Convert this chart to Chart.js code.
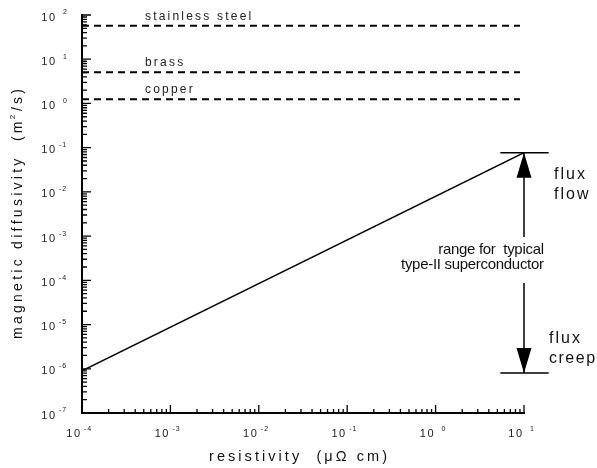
<!DOCTYPE html>
<html>
<head>
<meta charset="utf-8">
<script src="https://cdn.jsdelivr.net/npm/chart.js@4"></script>
<style>
    body { margin: 0; background: #fff; }
</style>
</head>
<body>
<canvas id="myChart" width="597" height="468"></canvas>
<script>
// axis decades (tick labels are 10^n)
const xDecades = [-4, -3, -2, -1, 0, 1];
const yDecades = [-7, -6, -5, -4, -3, -2, -1, 0, 1, 2];
const minorSteps = [2, 3, 4, 5, 6, 7, 8, 9];

// superconductor diffusivity vs resistivity
const lineX = [1e-4, 10];
const lineY = [9e-7, 0.077];

// normal metals
const materials = ['stainless steel', 'brass', 'copper'];
const materialD = [57, 5.05, 1.24];
const materialX = [1e-4, 9];

// range bar for typical type-II superconductor
const rangeX = 10;
const rangeTop = 0.077;
const rangeBottom = 8e-7;
const capX = [5.4, 19];
const arrowTails = [9.5e-4, 8.7e-5];

const FONT = '"Liberation Sans", Arial, sans-serif';

function spacedText(ctx, text, x, y, spacing, align) {
    const chars = [...text];
    const widths = chars.map(c => ctx.measureText(c).width);
    const total = widths.reduce((a, b) => a + b, 0) + spacing * (chars.length - 1);
    let start = x;
    if (align === 'center') start = x - total / 2;
    if (align === 'right') start = x - total;
    ctx.textAlign = 'left';
    for (let i = 0; i < chars.length; i++) {
        ctx.fillText(chars[i], start, y);
        start += widths[i] + spacing;
    }
    return total;
}

function textWidth(ctx, text, spacing) {
    const chars = [...text];
    return chars.map(c => ctx.measureText(c).width).reduce((a, b) => a + b, 0) + spacing * (chars.length - 1);
}

function powerLabel(ctx, exp, x, y) {
    // "10" ends at x, exponent follows, raised
    ctx.font = '11px ' + FONT;
    spacedText(ctx, '10', x, y, 1.5, 'right');
    ctx.font = '7px ' + FONT;
    const s = exp < 0 ? '-' + Math.abs(exp) : String(exp);
    spacedText(ctx, s, exp < 0 ? x + 4 : x + 8, y - 5, 1, 'left');
}

const decorPlugin = {
    id: 'decor',
    afterDatasetsDraw(chart) {
        const ctx = chart.ctx;
        const xs = chart.scales.x;
        const ys = chart.scales.y;
        const area = chart.chartArea;
        ctx.save();
        ctx.strokeStyle = '#000';
        ctx.fillStyle = '#000';
        ctx.lineWidth = 1.3;

        // inward ticks on y
        ctx.beginPath();
        yDecades.forEach((d, i) => {
            const yp = ys.getPixelForValue(Math.pow(10, d));
            ctx.moveTo(area.left, yp);
            ctx.lineTo(area.left + 9, yp);
            if (i < yDecades.length - 1) {
                minorSteps.forEach(m => {
                    const mp = ys.getPixelForValue(m * Math.pow(10, d));
                    ctx.moveTo(area.left, mp);
                    ctx.lineTo(area.left + 5, mp);
                });
            }
        });
        // inward ticks on x
        xDecades.forEach((d, i) => {
            const xp = xs.getPixelForValue(Math.pow(10, d));
            ctx.moveTo(xp, area.bottom);
            ctx.lineTo(xp, area.bottom - 8);
            if (i < xDecades.length - 1) {
                minorSteps.forEach(m => {
                    const mp = xs.getPixelForValue(m * Math.pow(10, d));
                    ctx.moveTo(mp, area.bottom);
                    ctx.lineTo(mp, area.bottom - 4);
                });
            }
        });
        ctx.stroke();

        // tick labels
        ctx.fillStyle = '#222';
        ctx.textBaseline = 'middle';
        yDecades.forEach(d => {
            const yp = ys.getPixelForValue(Math.pow(10, d));
            powerLabel(ctx, d, area.left - 27, yp + 2.5);
        });
        xDecades.forEach(d => {
            const xp = xs.getPixelForValue(Math.pow(10, d));
            powerLabel(ctx, d, xp - 2, area.bottom + 21);
        });

        // material labels
        ctx.textBaseline = 'alphabetic';
        ctx.font = '12px ' + FONT;
        materials.forEach((name, i) => {
            const yp = ys.getPixelForValue(materialD[i]);
            spacedText(ctx, name, 145, yp - 6, 2.2, 'left');
        });

        // arrow heads
        const ax = xs.getPixelForValue(rangeX);
        const topY = ys.getPixelForValue(rangeTop);
        const botY = ys.getPixelForValue(rangeBottom);
        ctx.fillStyle = '#000';
        ctx.beginPath();
        ctx.moveTo(ax, topY);
        ctx.lineTo(ax - 7.5, topY + 25);
        ctx.lineTo(ax + 7.5, topY + 25);
        ctx.closePath();
        ctx.moveTo(ax, botY);
        ctx.lineTo(ax - 7.5, botY - 25);
        ctx.lineTo(ax + 7.5, botY - 25);
        ctx.closePath();
        ctx.fill();

        // range annotation
        ctx.fillStyle = '#111';
        ctx.font = '15px ' + FONT;
        spacedText(ctx, 'range for  typical', ax + 20, 254, -0.3, 'right');
        spacedText(ctx, 'type-II superconductor', ax + 20, 269, -0.3, 'right');

        ctx.font = '16px ' + FONT;
        spacedText(ctx, 'flux', ax + 30, topY + 26, 2, 'left');
        spacedText(ctx, 'flow', ax + 30, topY + 46, 2, 'left');
        spacedText(ctx, 'flux', ax + 25, botY - 30, 2, 'left');
        spacedText(ctx, 'creep', ax + 25, botY - 10, 1.5, 'left');

        // axis titles
        ctx.font = '14.5px ' + FONT;
        const xTitle = 'resistivity  (\u03bc\u03a9 cm)';
        const xw = textWidth(ctx, xTitle, 0);
        const xsp = (178 - xw) / ([...xTitle].length - 1);
        spacedText(ctx, xTitle, 298, 461, xsp, 'center');

        ctx.translate(22, (area.top + area.bottom) / 2);
        ctx.rotate(-Math.PI / 2);
        ctx.font = '14px ' + FONT;
        const yTitle = 'magnetic diffusivity  (m /s)';
        const yw = textWidth(ctx, yTitle, 0);
        const ysp = (250 - yw) / ([...yTitle].length - 1);
        const start = -((yw + ysp * ([...yTitle].length - 1)) / 2);
        spacedText(ctx, yTitle, start, 0, ysp, 'left');
        // superscript 2 sits in the gap after "m"
        const pre = 'magnetic diffusivity  (m';
        const off = textWidth(ctx, pre, ysp) + ysp;
        ctx.font = '8px ' + FONT;
        ctx.fillText('2', start + off - 1, -7);
        ctx.restore();
    }
};

const lineStyle = { borderColor: '#000', pointRadius: 0, showLine: true, fill: false };

const datasets = [];
datasets.push(Object.assign({
    data: lineX.map((x, i) => ({ x: x, y: lineY[i] })),
    borderWidth: 1.3,
}, lineStyle));
materials.forEach((name, i) => {
    datasets.push(Object.assign({
        data: materialX.map(x => ({ x: x, y: materialD[i] })),
        borderWidth: 2,
        borderDash: [7, 5],
    }, lineStyle));
});
[rangeTop, rangeBottom].forEach(v => {
    datasets.push(Object.assign({
        data: capX.map(x => ({ x: x, y: v })),
        borderWidth: 1.5,
        clip: false,
    }, lineStyle));
});
datasets.push(Object.assign({
    data: [{ x: rangeX, y: arrowTails[0] }, { x: rangeX, y: rangeTop }],
    borderWidth: 1.5,
    clip: false,
}, lineStyle));
datasets.push(Object.assign({
    data: [{ x: rangeX, y: arrowTails[1] }, { x: rangeX, y: rangeBottom }],
    borderWidth: 1.5,
    clip: false,
}, lineStyle));

const axisOpts = {
    type: 'logarithmic',
    grid: { display: false, drawTicks: false },
    ticks: { display: false },
    border: { display: true, color: '#000', width: 2 },
};

const ctx = document.getElementById('myChart').getContext('2d');
const myChart = new Chart(ctx, {
    type: 'scatter',
    data: { datasets: datasets },
    options: {
        responsive: false,
        animation: false,
        devicePixelRatio: 1,
        layout: { padding: { left: 82, right: 73, top: 15, bottom: 55 } },
        scales: {
            x: Object.assign({ position: 'bottom', min: Math.pow(10, xDecades[0]), max: Math.pow(10, xDecades[xDecades.length - 1]) }, axisOpts),
            y: Object.assign({ position: 'left', min: Math.pow(10, yDecades[0]), max: Math.pow(10, yDecades[yDecades.length - 1]) }, axisOpts),
        },
        plugins: {
            legend: { display: false },
            tooltip: { enabled: false },
        },
    },
    plugins: [decorPlugin],
});
</script>
</body>
</html>
